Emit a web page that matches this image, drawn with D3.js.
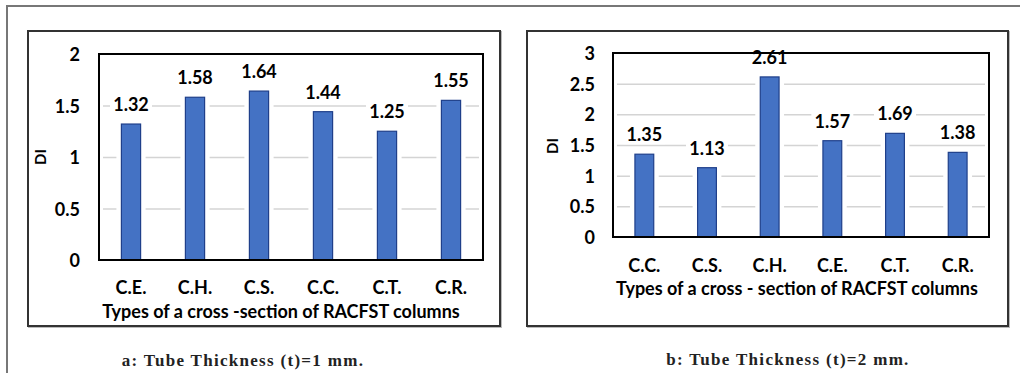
<!DOCTYPE html>
<html>
<head>
<meta charset="utf-8">
<script src="https://cdn.jsdelivr.net/npm/d3@7"></script>
<style>
  body { margin: 0; background: #fff; }
  svg { display: block; }
  .bold { font-family: Lato, "Open Sans", sans-serif; font-weight: bold; fill: #000; }
  .caption { font-family: "Liberation Serif", "DejaVu Serif", serif; font-weight: bold; fill: #222; }
</style>
</head>
<body>
<svg id="fig" width="1020" height="373"></svg>
<script>
// ---- data ----
var categoriesA = ["C.E.", "C.H.", "C.S.", "C.C.", "C.T.", "C.R."]
var valuesA = [1.32, 1.58, 1.64, 1.44, 1.25, 1.55]
var ticksA = [0, 0.5, 1, 1.5, 2]

var categoriesB = ["C.C.", "C.S.", "C.H.", "C.E.", "C.T.", "C.R."]
var valuesB = [1.35, 1.13, 2.61, 1.57, 1.69, 1.38]
var ticksB = [0, 0.5, 1, 1.5, 2, 2.5, 3]

var xTitleA = "Types of a cross -section of RACFST columns"
var xTitleB = "Types of a cross - section of RACFST columns"
var yTitle = "DI"
var captionA = "a: Tube Thickness (t)=1 mm."
var captionB = "b: Tube Thickness (t)=2 mm."

var svg = d3.select("#fig")

// outer figure frame (only top + left visible)
svg.append("path")
  .attr("d", "M7,373 V6 H1020")
  .attr("fill", "none")
  .attr("stroke", "#777")
  .attr("stroke-width", 2)

function drawPanel(cfg) {
  var g = svg.append("g")

  // chart box
  g.append("rect")
    .attr("x", cfg.box.x + 1).attr("y", cfg.box.y + 1)
    .attr("width", cfg.box.w).attr("height", cfg.box.h)
    .attr("fill", "none").attr("stroke", "#bbb").attr("stroke-width", 2)
  g.append("rect")
    .attr("x", cfg.box.x).attr("y", cfg.box.y)
    .attr("width", cfg.box.w).attr("height", cfg.box.h)
    .attr("fill", "#fff").attr("stroke", "#333").attr("stroke-width", 2)

  var p = cfg.plot
  var x = d3.scaleBand().domain(cfg.cats).range([p.l, p.r]).paddingInner(0.7).paddingOuter(0.35)
  var y = d3.scaleLinear().domain([0, cfg.ticks[cfg.ticks.length - 1]]).range([p.b, p.t])

  // gridlines
  g.append("g")
    .attr("transform", "translate(" + p.l + ",0)")
    .call(d3.axisLeft(y).tickValues(cfg.ticks.slice(1, -1)).tickSize(-(p.r - p.l - 8)).tickFormat(""))
    .call(function(s) { s.select(".domain").remove() })
    .call(function(s) { s.selectAll("line").attr("stroke", "#d4d4d4").attr("stroke-width", 1.5).attr("transform", "translate(4,0)") })

  // white halo around bars (gaps in grid)
  g.append("g").selectAll("rect")
    .data(cfg.vals)
    .enter().append("rect")
      .attr("x", function(d, i) { return x(cfg.cats[i]) - 5 })
      .attr("y", function(d) { return y(d) - 3 })
      .attr("width", x.bandwidth() + 10)
      .attr("height", function(d) { return p.b - y(d) + 3 })
      .attr("fill", "#fff")

  // bars
  g.append("g").selectAll("rect")
    .data(cfg.vals)
    .enter().append("rect")
      .attr("x", function(d, i) { return x(cfg.cats[i]) })
      .attr("y", function(d) { return y(d) })
      .attr("width", x.bandwidth())
      .attr("height", function(d) { return p.b - y(d) })
      .attr("fill", "#4472c4")
      .attr("stroke", "#1f3f8a")
      .attr("stroke-width", 1.2)

  // plot frame
  g.append("rect")
    .attr("x", p.l).attr("y", p.t)
    .attr("width", p.r - p.l).attr("height", p.b - p.t)
    .attr("fill", "none").attr("stroke", "#000").attr("stroke-width", 2)

  // data labels with white background
  var lab = g.append("g").selectAll("g")
    .data(cfg.vals)
    .enter().append("g")
      .attr("transform", function(d, i) { return "translate(" + (x(cfg.cats[i]) + x.bandwidth() / 2) + "," + (y(d) - 20) + ")" })
  lab.append("rect")
    .attr("x", -21).attr("y", -10).attr("width", 42).attr("height", 20)
    .attr("fill", "#fff")
    .attr("opacity", function(d) { return y(d) - 20 < p.t + 6 ? 0 : 1 })
  lab.append("text")
    .attr("class", "bold")
    .attr("text-anchor", "middle")
    .attr("dominant-baseline", "central")
    .style("font-size", "18px")
    .text(function(d) { return d.toFixed(2) })

  // y tick labels
  g.append("g").selectAll("text")
    .data(cfg.ticks)
    .enter().append("text")
      .attr("class", "bold")
      .attr("x", cfg.tickX)
      .attr("y", function(d) { return y(d) })
      .attr("text-anchor", "end")
      .attr("dominant-baseline", "central")
      .style("font-size", "18px")
      .text(function(d) { return d })

  // y title
  g.append("text")
    .attr("class", "bold")
    .attr("transform", "translate(" + cfg.diX + "," + cfg.diY + ") rotate(-90)")
    .attr("text-anchor", "middle")
    .attr("dominant-baseline", "central")
    .style("font-size", "15px")
    .text(yTitle)

  // category labels
  g.append("g").selectAll("text")
    .data(cfg.cats)
    .enter().append("text")
      .attr("class", "bold")
      .attr("x", function(d) { return x(d) + x.bandwidth() / 2 })
      .attr("y", cfg.catY)
      .attr("text-anchor", "middle")
      .attr("dominant-baseline", "central")
      .style("font-size", "18px")
      .text(function(d) { return d })

  // x title
  g.append("text")
    .attr("class", "bold")
    .attr("x", cfg.titleX).attr("y", cfg.titleY)
    .attr("text-anchor", "middle")
    .attr("dominant-baseline", "central")
    .style("font-size", "18px")
    .text(cfg.xTitle)

  // caption
  g.append("text")
    .attr("class", "caption")
    .attr("x", cfg.capX).attr("y", cfg.capY)
    .attr("text-anchor", "middle")
    .attr("dominant-baseline", "central")
    .style("font-size", "17px")
    .style("letter-spacing", "1.3px")
    .text(cfg.caption)
}

drawPanel({
  cats: categoriesA, vals: valuesA, ticks: ticksA,
  box: {x: 28, y: 31, w: 472, h: 295},
  plot: {l: 99, t: 54, r: 483, b: 260},
  tickX: 80, diX: 40, diY: 157,
  catY: 287, titleX: 281, titleY: 311,
  xTitle: xTitleA, caption: captionA, capX: 243, capY: 360
})

drawPanel({
  cats: categoriesB, vals: valuesB, ticks: ticksB,
  box: {x: 527, y: 31, w: 481, h: 295},
  plot: {l: 613, t: 53, r: 989, b: 237},
  tickX: 595, diX: 552, diY: 146,
  catY: 265, titleX: 797, titleY: 288,
  xTitle: xTitleB, caption: captionB, capX: 788, capY: 359
})
</script>
</body>
</html>
